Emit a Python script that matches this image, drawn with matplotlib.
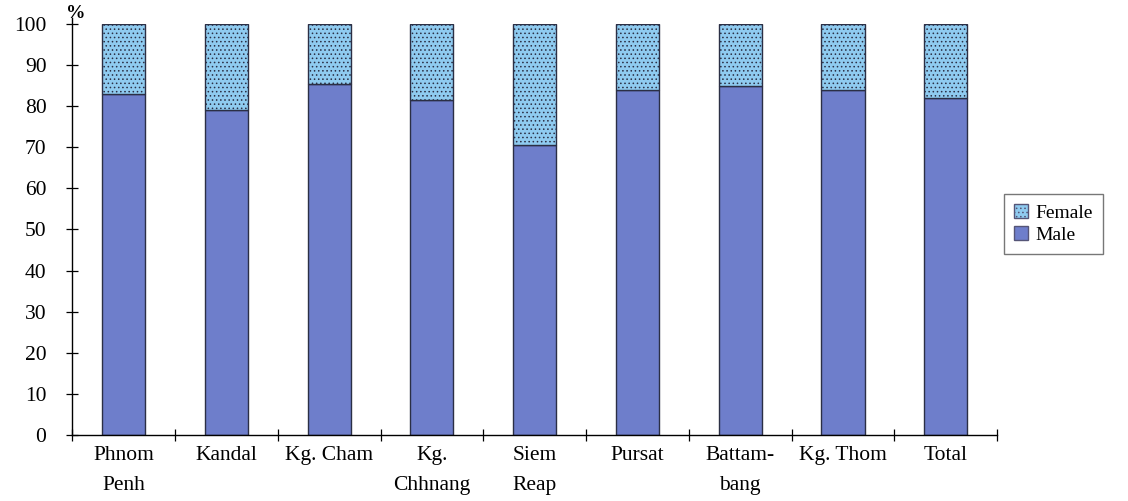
import numpy as np
import matplotlib.pyplot as plt
from matplotlib.patches import Patch

provinces = ["Phnom\nPenh", "Kandal", "Kg. Cham", "Kg.\nChhnang", "Siem\nReap",
             "Pursat", "Battam-\nbang", "Kg. Thom", "Total"]
male = [83.0, 79.0, 85.5, 81.5, 70.5, 84.0, 85.0, 84.0, 82.0]
female = [100 - m for m in male]

male_color = "#6e7ecb"
female_color = "#8fcbf0"
edge = "#2b2f45"

plt.rcParams["font.family"] = ["Liberation Serif", "DejaVu Serif"]
plt.rcParams["hatch.color"] = "#d8eefb"
plt.rcParams["hatch.linewidth"] = 0.6

fig = plt.figure(figsize=(11.28, 5.01), dpi=100)
ax = fig.add_axes([0.064, 0.132, 0.82, 0.82])

x = np.arange(len(provinces))
w = 0.42
ax.bar(x, male, width=w, color=male_color, edgecolor=edge, linewidth=1.0)
ax.bar(x, female, width=w, bottom=male, color=female_color, edgecolor=edge,
       linewidth=1.0, hatch="....")

ax.set_xlim(-0.5, len(provinces) - 0.5)
ax.set_ylim(0, 100)
ax.set_yticks(range(0, 101, 10))
ax.tick_params(axis="y", direction="inout", length=9, width=0.9, labelsize=15.5, pad=14)

# category boundaries carry the ticks, labels sit under each bar
ax.set_xticks(np.arange(len(provinces) + 1) - 0.5)
ax.set_xticklabels([])
ax.tick_params(axis="x", direction="inout", length=9, width=0.9)
for i, name in enumerate(provinces):
    ax.text(i, -2.8, name, ha="center", va="top", fontsize=15.5, linespacing=1.75)

for side in ("top", "right"):
    ax.spines[side].set_visible(False)
ax.spines["left"].set_bounds(0, 101.5)
ax.spines["left"].set_linewidth(1.0)
ax.spines["bottom"].set_linewidth(1.0)
ax.text(-0.47, 102.5, "%", ha="center", va="center", fontsize=14, fontweight="bold")

handles = [Patch(facecolor=female_color, edgecolor="#555577", hatch="...."),
           Patch(facecolor=male_color, edgecolor="#555577")]
fig.legend(handles, ["Female", "Male"], loc="center left",
           bbox_to_anchor=(0.8905, 0.553), fontsize=14, frameon=True,
           fancybox=False, edgecolor="#555555", handlelength=0.7,
           handleheight=0.7, handletextpad=0.4, borderpad=0.5, labelspacing=0.25,
           borderaxespad=0.0)

fig.savefig("out.png", dpi=100)
